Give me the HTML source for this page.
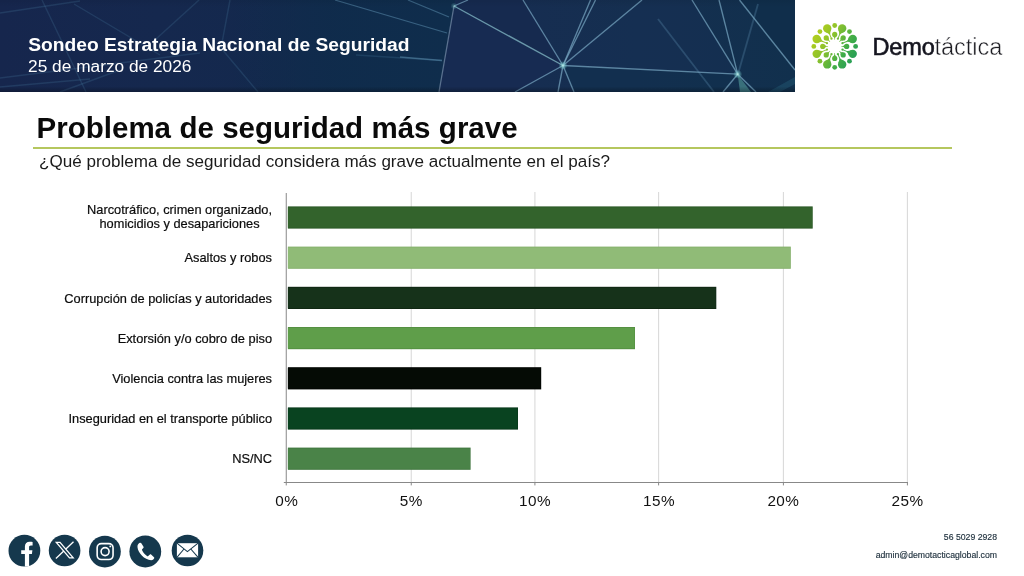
<!DOCTYPE html>
<html lang="es">
<head>
<meta charset="utf-8">
<title>Problema de seguridad más grave</title>
<style>
html,body{margin:0;padding:0;}
body{width:1024px;height:576px;position:relative;overflow:hidden;background:#fff;font-family:"Liberation Sans",sans-serif;color:#111;}
.abs{position:absolute;white-space:nowrap;}
#banner{position:absolute;left:0;top:0;width:795px;height:92px;background:#14294b;overflow:hidden;}
#h1{left:28.2px;top:34px;font-size:19.23px;font-weight:bold;color:#fff;line-height:22px;}
#h2{left:28.100px;top:56.300px;font-size:17.300px;color:#fff;line-height:20px;}
#title{left:36.6px;top:110.6px;font-size:29.5px;word-spacing:0.15px;font-weight:bold;color:#0a0a0a;line-height:34px;}
#rule{position:absolute;left:33px;top:147px;width:918.7px;height:2px;background:#b5c75e;box-shadow:0 0 0.6px #cfdc8a;}
#sub{left:39px;top:152.400px;font-size:17.070px;color:#1a1a1a;line-height:20px;}
.lbl{position:absolute;right:752px;text-align:right;font-size:12.8px;line-height:15px;color:#0c0c0c;white-space:nowrap;-webkit-text-stroke:0.2px #0c0c0c;}
.ft{position:absolute;right:27px;text-align:right;font-size:8.7px;line-height:10px;color:#1d2f3c;white-space:nowrap;-webkit-text-stroke:0.15px #1d2f3c;}
#brand{left:872.5px;top:33px;font-size:23.5px;line-height:28px;color:#15151f;}
#brand .b1{font-weight:normal;letter-spacing:-0.15px;-webkit-text-stroke:0.6px #15151f;}
#brand .b2{font-weight:normal;letter-spacing:-0.05px;color:#1c1c22;-webkit-text-stroke:0.45px #fff;}
</style>
</head>
<body>
<div id="banner"><svg id="net" width="795" height="92" viewBox="0 0 795 92" style="position:absolute;left:0;top:0">
<defs>
<linearGradient id="bg" x1="0" y1="0" x2="795" y2="0" gradientUnits="userSpaceOnUse">
<stop offset="0" stop-color="#16264d"/><stop offset="0.2" stop-color="#15284e"/><stop offset="0.4" stop-color="#13294d"/><stop offset="0.56" stop-color="#172c52"/><stop offset="0.8" stop-color="#152f50"/><stop offset="1" stop-color="#11304d"/>
</linearGradient>
<linearGradient id="lft" x1="230" y1="0" x2="450" y2="0" gradientUnits="userSpaceOnUse"><stop offset="0" stop-color="#0e2c4b" stop-opacity="0"/><stop offset="0.5" stop-color="#0e2c4b" stop-opacity="0.8"/><stop offset="1" stop-color="#0f2d4c" stop-opacity="1"/></linearGradient>
<linearGradient id="shade" x1="0" y1="0" x2="0" y2="92" gradientUnits="userSpaceOnUse"><stop offset="0" stop-color="#000" stop-opacity="0.06"/><stop offset="0.08" stop-color="#000" stop-opacity="0"/><stop offset="0.94" stop-color="#000" stop-opacity="0"/><stop offset="1" stop-color="#000" stop-opacity="0.28"/></linearGradient>
<filter id="soft" x="-5%" y="-5%" width="110%" height="110%"><feGaussianBlur stdDeviation="0.45"/></filter>
<radialGradient id="glow"><stop offset="0" stop-color="#c8f4ee" stop-opacity="0.95"/><stop offset="0.45" stop-color="#7fd0d0" stop-opacity="0.5"/><stop offset="1" stop-color="#6fd0d0" stop-opacity="0"/></radialGradient>
</defs>
<rect width="795" height="92" fill="url(#bg)"/>
<path d="M230 0 L455 0 L454 6 L439 92 L230 92 Z" fill="url(#lft)"/>
<path d="M454 6 L439 92 L515 92 L563 65.5 Z" fill="#172b52"/>
<path d="M454 6 L468 0 L523 0 L563 65.5 Z" fill="#162a4f"/>
<path d="M563 65.500 L642 0 L692 0 L737.700 74.200 Z" fill="#172f56" fill-opacity="0.4"/>
<path d="M563 65.500 L737.700 74.200 L723 92 L574 92 Z" fill="#10304f" fill-opacity="0.6"/>
<path d="M739.500 0 L795 0 L795 70 Z" fill="#0f2d4a" fill-opacity="0.7"/>
<g fill="none" stroke="#4f86a8" stroke-width="1.4" stroke-opacity="0.22" filter="url(#soft)">
<path d="M0 13 L80 1"/><path d="M42 0 L86 92"/><path d="M74 4 L160 55"/><path d="M199 0 L156 39"/><path d="M0 78 L200 53"/><path d="M0 87 L90 79"/>
<path d="M230 0 L221 48 L258 92"/><path d="M60 92 L120 70"/><path d="M356 55 L442 60.500"/>
</g>
<g fill="none" stroke="#5f93b3" stroke-width="1.3" stroke-opacity="0.5" filter="url(#soft)">
<path d="M335 0 L447 33"/><path d="M408 0 L449 17"/><path d="M400 57 L442 60.500"/>
</g>
<g fill="none" stroke="#5f93b3" stroke-width="1.8" stroke-opacity="0.3" filter="url(#soft)"><path d="M658 19 L714 92"/><path d="M758 4 L738 74"/></g>
<g fill="none" stroke="#7aaac4" stroke-width="1.35" stroke-opacity="0.7" filter="url(#soft)">
<path d="M454 6 L468 0"/>
<path d="M563 65.500 L523 0"/><path d="M563 65.500 L590.500 0"/><path d="M563 65.500 L595.500 0"/><path d="M563 65.500 L642 0"/>
<path d="M563 65.500 L737.700 74.200"/><path d="M563 65.500 L515 92"/><path d="M563 65.500 L558 92"/><path d="M563 65.500 L574 92"/>
<path d="M692 0 L737.700 74.200"/><path d="M719 0 L737.700 74.200"/><path d="M739.500 0 L795 70"/>
<path d="M737.700 74.200 L723 92"/><path d="M737.700 74.200 L756 92"/>
</g>
<path d="M454 6 L439 92" fill="none" stroke="#8097b0" stroke-width="1.3" stroke-opacity="0.65" filter="url(#soft)"/>
<path d="M454 6 L563 65.500" fill="none" stroke="#86bcc8" stroke-width="1.35" stroke-opacity="0.75" filter="url(#soft)"/>
<path d="M737.700 74.200 L740 92 L751 92 Z" fill="#5fb0a8" fill-opacity="0.5"/>
<path d="M768 92 L795 77 L795 84 L780 92 Z" fill="#2f6f8a" fill-opacity="0.3"/>
<circle cx="563" cy="65.500" r="4.500" fill="url(#glow)"/><circle cx="737.700" cy="74.200" r="4.500" fill="url(#glow)"/><circle cx="454" cy="6" r="3.5" fill="url(#glow)" opacity="0.5"/>
<rect width="795" height="92" fill="url(#shade)"/>
</svg></div>
<div id="h1" class="abs">Sondeo Estrategia Nacional de Seguridad</div>
<div id="h2" class="abs">25 de marzo de 2026</div>

<div id="title" class="abs">Problema de seguridad más grave</div>
<div id="rule"></div>
<div id="sub" class="abs">¿Qué problema de seguridad considera más grave actualmente en el país?</div>

<!-- chart -->
<svg id="chart" width="1024" height="576" viewBox="0 0 1024 576" style="position:absolute;left:0;top:0">
<rect x="410.70" y="192" width="1.1" height="290.5" fill="#dadada"/>
<rect x="534.35" y="192" width="1.1" height="290.5" fill="#dadada"/>
<rect x="658.05" y="192" width="1.1" height="290.5" fill="#dadada"/>
<rect x="782.85" y="192" width="1.1" height="290.5" fill="#dadada"/>
<rect x="906.85" y="192" width="1.1" height="290.5" fill="#dadada"/>
<rect x="287.900" y="206.4" width="524.8" height="22.200" fill="#2a5725"/><rect x="287.900" y="207.3" width="524.2" height="20.400" fill="#33632c"/>
<rect x="287.900" y="246.6" width="502.9" height="22.200" fill="#84b06b"/><rect x="287.900" y="247.5" width="502.3" height="20.400" fill="#90bb77"/>
<rect x="287.900" y="286.8" width="428.4" height="22.200" fill="#102714"/><rect x="287.900" y="287.7" width="427.8" height="20.400" fill="#16321a"/>
<rect x="287.900" y="327.0" width="347.1" height="22.200" fill="#548f41"/><rect x="287.900" y="327.9" width="346.5" height="20.400" fill="#5f9e4a"/>
<rect x="287.900" y="367.2" width="253.3" height="22.200" fill="#020502"/><rect x="287.900" y="368.1" width="252.7" height="20.400" fill="#050b05"/>
<rect x="287.900" y="407.4" width="230.1" height="22.200" fill="#07371a"/><rect x="287.900" y="408.3" width="229.5" height="20.400" fill="#094320"/>
<rect x="287.900" y="447.6" width="182.7" height="22.200" fill="#3f753e"/><rect x="287.900" y="448.5" width="182.1" height="20.400" fill="#4a8348"/>
<rect x="285.75" y="193" width="1" height="292.4" fill="#888"/>
<rect x="283.8" y="482" width="624.1" height="1" fill="#888"/>
<rect x="410.75" y="482" width="1" height="3.4" fill="#888"/>
<rect x="534.40" y="482" width="1" height="3.4" fill="#888"/>
<rect x="658.10" y="482" width="1" height="3.4" fill="#888"/>
<rect x="782.90" y="482" width="1" height="3.4" fill="#888"/>
<rect x="906.90" y="482" width="1" height="3.4" fill="#888"/>
<g font-family="Liberation Sans, sans-serif" font-size="15.3" letter-spacing="0.45" fill="#111" text-anchor="middle"><text x="286.8" y="506.4">0%</text><text x="411.3" y="506.4">5%</text><text x="535.1" y="506.4">10%</text><text x="659.0" y="506.4">15%</text><text x="783.4000000000001" y="506.4">20%</text><text x="907.6" y="506.4">25%</text></g>
</svg>

<div class="lbl" style="top:203px;text-align:center;line-height:14px">Narcotráfico, crimen organizado,<br>homicidios y desapariciones</div>
<div class="lbl" style="top:250px">Asaltos y robos</div>
<div class="lbl" style="top:291px">Corrupción de policías y autoridades</div>
<div class="lbl" style="top:331px">Extorsión y/o cobro de piso</div>
<div class="lbl" style="top:371px">Violencia contra las mujeres</div>
<div class="lbl" style="top:411px">Inseguridad en el transporte público</div>
<div class="lbl" style="top:451px">NS/NC</div>


<svg id="logo" width="70" height="65" viewBox="0 0 70 65" style="position:absolute;left:800px;top:15px">
<defs><linearGradient id="lg" x1="12" y1="18" x2="58" y2="46" gradientUnits="userSpaceOnUse"><stop offset="0" stop-color="#b9d11c"/><stop offset="0.35" stop-color="#8cc22c"/><stop offset="0.7" stop-color="#3fac48"/><stop offset="1" stop-color="#1f9a5c"/></linearGradient></defs>
<g fill="url(#lg)">
<circle cx="42.16" cy="13.38" r="4.2"/>
<path d="M43.84 17.23 Q41.16 18.06 40.14 19.58 L38.33 23.81 L37.50 23.47 L39.21 19.20 Q39.56 17.40 38.25 14.92 Z"/>
<circle cx="37.91" cy="23.64" r="1.15"/>
<circle cx="34.70" cy="10.50" r="2.4"/>
<circle cx="34.70" cy="19.40" r="2.6"/>
<path d="M36.57 21.20 Q35.32 22.15 35.10 23.10 L34.95 24.80 L34.45 24.80 L34.30 23.10 Q34.08 22.15 32.83 21.20 Z"/>
<circle cx="52.72" cy="23.94" r="4.2"/>
<path d="M51.18 27.85 Q48.70 26.54 46.90 26.89 L42.63 28.60 L42.29 27.77 L46.52 25.96 Q48.04 24.94 48.87 22.26 Z"/>
<circle cx="42.46" cy="28.19" r="1.15"/>
<circle cx="49.48" cy="16.62" r="2.4"/>
<circle cx="43.19" cy="22.91" r="2.6"/>
<path d="M43.23 25.51 Q41.68 25.30 40.85 25.81 L39.54 26.91 L39.19 26.56 L40.29 25.25 Q40.80 24.42 40.59 22.87 Z"/>
<circle cx="52.72" cy="38.86" r="4.2"/>
<path d="M48.87 40.54 Q48.04 37.86 46.52 36.84 L42.29 35.03 L42.63 34.20 L46.90 35.91 Q48.70 36.26 51.18 34.95 Z"/>
<circle cx="42.46" cy="34.61" r="1.15"/>
<circle cx="55.60" cy="31.40" r="2.4"/>
<circle cx="46.70" cy="31.40" r="2.6"/>
<path d="M44.90 33.27 Q43.95 32.02 43.00 31.80 L41.30 31.65 L41.30 31.15 L43.00 31.00 Q43.95 30.78 44.90 29.53 Z"/>
<circle cx="42.16" cy="49.42" r="4.2"/>
<path d="M38.25 47.88 Q39.56 45.40 39.21 43.60 L37.50 39.33 L38.33 38.99 L40.14 43.22 Q41.16 44.74 43.84 45.57 Z"/>
<circle cx="37.91" cy="39.16" r="1.15"/>
<circle cx="49.48" cy="46.18" r="2.4"/>
<circle cx="43.19" cy="39.89" r="2.6"/>
<path d="M40.59 39.93 Q40.80 38.38 40.29 37.55 L39.19 36.24 L39.54 35.89 L40.85 36.99 Q41.68 37.50 43.23 37.29 Z"/>
<circle cx="27.24" cy="49.42" r="4.2"/>
<path d="M25.56 45.57 Q28.24 44.74 29.26 43.22 L31.07 38.99 L31.90 39.33 L30.19 43.60 Q29.84 45.40 31.15 47.88 Z"/>
<circle cx="31.49" cy="39.16" r="1.15"/>
<circle cx="34.70" cy="52.30" r="2.4"/>
<circle cx="34.70" cy="43.40" r="2.6"/>
<path d="M32.83 41.60 Q34.08 40.65 34.30 39.70 L34.45 38.00 L34.95 38.00 L35.10 39.70 Q35.32 40.65 36.57 41.60 Z"/>
<circle cx="16.68" cy="38.86" r="4.2"/>
<path d="M18.22 34.95 Q20.70 36.26 22.50 35.91 L26.77 34.20 L27.11 35.03 L22.88 36.84 Q21.36 37.86 20.53 40.54 Z"/>
<circle cx="26.94" cy="34.61" r="1.15"/>
<circle cx="19.92" cy="46.18" r="2.4"/>
<circle cx="26.21" cy="39.89" r="2.6"/>
<path d="M26.17 37.29 Q27.72 37.50 28.55 36.99 L29.86 35.89 L30.21 36.24 L29.11 37.55 Q28.60 38.38 28.81 39.93 Z"/>
<circle cx="16.68" cy="23.94" r="4.2"/>
<path d="M20.53 22.26 Q21.36 24.94 22.88 25.96 L27.11 27.77 L26.77 28.60 L22.50 26.89 Q20.70 26.54 18.22 27.85 Z"/>
<circle cx="26.94" cy="28.19" r="1.15"/>
<circle cx="13.80" cy="31.40" r="2.4"/>
<circle cx="22.70" cy="31.40" r="2.6"/>
<path d="M24.50 29.53 Q25.45 30.78 26.40 31.00 L28.10 31.15 L28.10 31.65 L26.40 31.80 Q25.45 32.02 24.50 33.27 Z"/>
<circle cx="27.24" cy="13.38" r="4.2"/>
<path d="M31.15 14.92 Q29.84 17.40 30.19 19.20 L31.90 23.47 L31.07 23.81 L29.26 19.58 Q28.24 18.06 25.56 17.23 Z"/>
<circle cx="31.49" cy="23.64" r="1.15"/>
<circle cx="19.92" cy="16.62" r="2.4"/>
<circle cx="26.21" cy="22.91" r="2.6"/>
<path d="M28.81 22.87 Q28.60 24.42 29.11 25.25 L30.21 26.56 L29.86 26.91 L28.55 25.81 Q27.72 25.30 26.17 25.51 Z"/>
</g></svg>
<div id="brand" class="abs"><span class="b1">Demo</span><span class="b2">táctica</span></div>
<svg id="icons" width="220" height="50" viewBox="0 0 220 50" style="position:absolute;left:0;top:526px">
<defs><clipPath id="fbc"><circle cx="24.4" cy="24.7" r="15.9"/></clipPath></defs>
<g fill="#15384d">
<circle cx="24.4" cy="24.7" r="15.9"/><circle cx="64.6" cy="24.5" r="15.8"/><circle cx="104.9" cy="25.6" r="15.9"/><circle cx="145.3" cy="25.5" r="15.9"/><circle cx="187.5" cy="24.5" r="15.8"/>
</g>
<path clip-path="url(#fbc)" fill="#fff" d="M24.9 41V27.9H21.2V24.2H24.9V20.6C24.9 17.4 26.8 15.8 29.6 15.8C30.9 15.8 32 15.9 32.6 16V19.5H30.9C29.5 19.5 29.1 20.2 29.1 21.3V24.2H32.4L31.9 27.9H29.1V41Z"/>
<path d="M73.5 15.7L55.9 32.5" fill="none" stroke="#fff" stroke-width="1.3"/><path d="M56.3 16.3H60L73.2 31.9H69.5Z" fill="#15384d" stroke="#fff" stroke-width="1.3" stroke-linejoin="miter"/>
<rect x="97.15" y="17.65" width="15.9" height="15.9" rx="4.2" fill="none" stroke="#fff" stroke-width="1.6"/>
<circle cx="105.1" cy="25.6" r="4" fill="none" stroke="#fff" stroke-width="1.6"/>
<circle cx="110.3" cy="20.4" r="0.95" fill="#fff"/>
<path fill="#fff" d="M139.4 17.1C138 18 137.3 19.4 137.5 21.2C137.8 24 139.4 27 141.8 29.500C144.500 32.300 147.800 34.100 151.200 34.300C152.600 34.300 153.600 33.400 154.200 32.300C154.400 31.900 154.300 31.600 154 31.300L151.100 28.500C150.700 28.200 150.300 28.200 149.900 28.500L148.200 29.900C147.800 30.200 147.400 30.200 147 29.900C144.900 28.500 143.200 26.500 142.100 24.200C141.900 23.800 142 23.400 142.300 23.100L143.400 21.900C143.700 21.500 143.700 21.100 143.500 20.700L141.500 17.400C141.100 16.800 140.200 16.600 139.400 17.100Z"/>
<rect x="176.900" y="17.200" width="21.200" height="14.100" fill="#fff"/>
<g fill="none" stroke="#15384d" stroke-width="1.05"><path d="M176.900 17.200L187.400 25.600L198.100 17.200"/><path d="M176.900 31.300L184 23"/><path d="M198.100 31.300L190.800 23"/></g>
</svg>

<div class="ft" style="top:532px">56 5029 2928</div>
<div class="ft" style="top:550px">admin@demotacticaglobal.com</div>
</body>
</html>
